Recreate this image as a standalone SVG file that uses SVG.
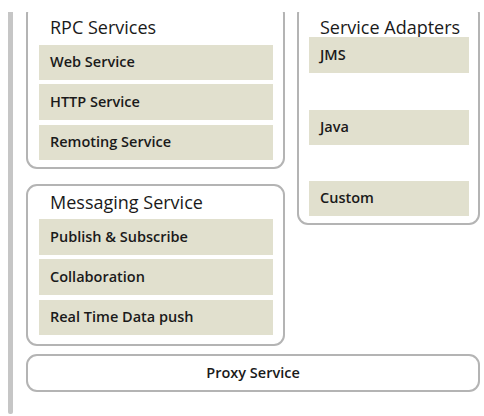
<svg xmlns="http://www.w3.org/2000/svg" width="484" height="416" viewBox="0 0 484 416">
<style>
.box{fill:#fff;stroke:#b4b4b4;stroke-width:2}
.item{fill:#e1e0ce}
.title{font-family:"Open Sans","Liberation Sans",sans-serif;font-size:18px;fill:#1a1a1a}
.lbl{font-family:"Open Sans","Liberation Sans",sans-serif;font-size:14.5px;font-weight:600;fill:#1a1a1a}
</style>
<defs>
<clipPath id="crop"><rect x="0" y="12" width="484" height="404"/></clipPath>
</defs>
<rect width="484" height="416" fill="#fff"/>
<g clip-path="url(#crop)">
<rect id="bar" x="8" y="0" width="5" height="414" rx="2" fill="#c6c6c6"/>
<g id="rpc">
<rect class="box" x="27" y="4" width="257" height="164" rx="10"/>
<text class="title" x="50" y="34">RPC Services</text>
<g id="web"><rect class="item" x="39" y="45" width="234" height="35"/><text class="lbl" x="50" y="67">Web Service</text></g>
<g id="http"><rect class="item" x="39" y="84" width="234" height="36"/><text class="lbl" x="50" y="107">HTTP Service</text></g>
<g id="remoting"><rect class="item" x="39" y="125" width="234" height="35"/><text class="lbl" x="50" y="147">Remoting Service</text></g>
</g>
<g id="adapters">
<rect class="box" x="298" y="4" width="181" height="220" rx="10"/>
<text class="title" x="320" y="34">Service Adapters</text>
<g id="jms"><rect class="item" x="309" y="37" width="160" height="36"/><text class="lbl" x="320" y="60">JMS</text></g>
<g id="java"><rect class="item" x="309" y="110" width="160" height="35"/><text class="lbl" x="320" y="132">Java</text></g>
<g id="custom"><rect class="item" x="309" y="181" width="160" height="35"/><text class="lbl" x="320" y="203">Custom</text></g>
</g>
<g id="messaging">
<rect class="box" x="27" y="185" width="257" height="160" rx="10"/>
<text class="title" x="50" y="209">Messaging Service</text>
<g id="pubsub"><rect class="item" x="39" y="219" width="234" height="36"/><text class="lbl" x="50" y="242">Publish &amp; Subscribe</text></g>
<g id="collab"><rect class="item" x="39" y="259" width="234" height="36"/><text class="lbl" x="50" y="282">Collaboration</text></g>
<g id="realtime"><rect class="item" x="39" y="300" width="234" height="35"/><text class="lbl" x="50" y="322">Real Time Data push</text></g>
</g>
<g id="proxy">
<rect class="box" x="27" y="355" width="452" height="36" rx="10"/>
<text class="lbl" x="253" y="378" text-anchor="middle">Proxy Service</text>
</g>
<g id="connectors"/>
</g>
</svg>
